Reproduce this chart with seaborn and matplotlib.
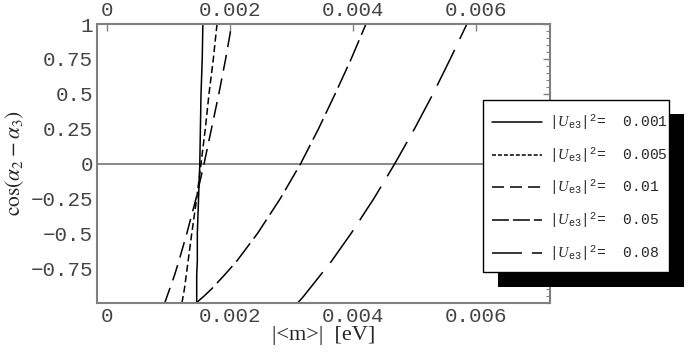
import numpy as np
import pandas as pd
import matplotlib
matplotlib.use("Agg")
import matplotlib.pyplot as plt
from matplotlib.lines import Line2D
from matplotlib.patches import Rectangle
import seaborn as sns

cos_vals = [-1.0, -0.95, -0.9, -0.8, -0.7, -0.5, -0.25, 0.0, 0.25, 0.5, 0.75, 1.0]

# |<m>| [eV] for each |Ue3|^2
m_0001 = [0.00146, 0.00146, 0.00146, 0.00146, 0.00147, 0.00147, 0.00149, 0.00151, 0.00152, 0.00153, 0.00155, 0.00156]
m_0005 = [0.00122, 0.00124, 0.00126, 0.00129, 0.00132, 0.00138, 0.00146, 0.00153, 0.00160, 0.00166, 0.00173, 0.00179]
m_001 = [0.00094, 0.00098, 0.00102, 0.00110, 0.00117, 0.00130, 0.00145, 0.00158, 0.00170, 0.00182, 0.00193, 0.00203]
m_005 = [0.00145, 0.00158, 0.00170, 0.00191, 0.00211, 0.00245, 0.00282, 0.00315, 0.00344, 0.00371, 0.00397, 0.00421]
m_008 = [0.00310, 0.00320, 0.00329, 0.00347, 0.00365, 0.00397, 0.00434, 0.00468, 0.00500, 0.00530, 0.00558, 0.00585]

ue3_vals = ["0.001", "0.005", "0.01", "0.05", "0.08"]
x_ticks = [0, 0.002, 0.004, 0.006]
x_ticklabels = ["0", "0.002", "0.004", "0.006"]
y_ticks = [-0.75, -0.5, -0.25, 0, 0.25, 0.5, 0.75, 1]
y_ticklabels = ["\u22120.75", "\u22120.5", "\u22120.25", "0", "0.25", "0.5", "0.75", "1"]

rows = []
for ue, ms in zip(ue3_vals, [m_0001, m_0005, m_001, m_005, m_008]):
    for c, m in zip(cos_vals, ms):
        rows.append({"ue3": ue, "m": m, "cos": c})
df = pd.DataFrame(rows)

sns.set_style("white")
plt.rcParams["mathtext.fontset"] = "custom"
plt.rcParams["mathtext.rm"] = "Liberation Mono"
plt.rcParams["mathtext.it"] = "Liberation Serif:italic"

gray = "#808080"
lw = 1.1
# dash patterns on the curves (linewidth units)
dash_map = {
    "0.001": "",
    "0.005": (4.6, 2.3),
    "0.01": (10.5, 5.2),
    "0.05": (15, 3.9),
    "0.08": (26, 7.9),
}
# shorter patterns as drawn in the legend box
legend_dashes = [None, (2.6, 1.3), (7.9, 3.9), (11.1, 2.6), (19.6, 6.5)]

fig = plt.figure(figsize=(6.88, 3.54), dpi=100)
ax = fig.add_axes([97 / 688, 1 - 303 / 354, 453 / 688, 279 / 354])

sns.lineplot(data=df, x="m", y="cos", hue="ue3", style="ue3",
             palette=["black"] * 5, dashes=dash_map, sort=False,
             estimator=None, legend=False, lw=lw, ax=ax)

ax.axhline(0, color=gray, lw=1.3, zorder=1)

ax.set_xlim(-0.00016, 0.0072)
ax.set_ylim(-1, 1)

tick_font = {"family": "Liberation Mono", "size": 15, "color": "#444444"}
ax.set_xticks(x_ticks)
ax.set_xticklabels(x_ticklabels, fontdict=tick_font)
ax.set_yticks(y_ticks)
ax.set_yticklabels(y_ticklabels, fontdict=tick_font)
ax.set_yticks(np.arange(-1, 1.001, 0.05), minor=True)

ax.tick_params(which="both", direction="in", color=gray, top=True, right=True,
               labeltop=True, labelbottom=True, pad=3)
ax.tick_params(which="major", length=5, width=1)
ax.tick_params(which="minor", length=3, width=0.8)

for sp in ax.spines.values():
    sp.set_color(gray)
    sp.set_linewidth(1.5)

ax.set_xlabel("|<m>|  [eV]", fontfamily="Liberation Serif", fontsize=16, labelpad=0)
ax.set_ylabel(r"$\cos(\alpha_2-\alpha_3)$", fontsize=15.5, math_fontfamily="stix", labelpad=3)

# legend box with a hard black shadow (figure pixel positions)
W, H = 688, 354
shadow = Rectangle((498 / W, 1 - 287 / H), 186 / W, 173 / H, transform=fig.transFigure,
                   facecolor="black", edgecolor="none", clip_on=False, zorder=6)
box = Rectangle((483 / W, 1 - 272 / H), 186 / W, 172 / H, transform=fig.transFigure,
                facecolor="white", edgecolor="black", lw=1, clip_on=False, zorder=7)
ax.add_patch(shadow)
ax.add_patch(box)

handles = []
for d in legend_dashes:
    if d is None:
        handles.append(Line2D([], [], color="black", lw=lw))
    else:
        handles.append(Line2D([], [], color="black", lw=lw, dashes=d))
labels = ["|$U_{\\mathrm{e3}}$|$^{2}$=  " + v for v in ue3_vals]
leg = ax.legend(handles, labels, loc="upper left",
                bbox_to_anchor=(483 / W, 1 - 104 / H), bbox_transform=fig.transFigure,
                borderaxespad=0, frameon=False,
                prop={"family": "Liberation Mono", "size": 10.5},
                handlelength=3.43, handletextpad=0.5, labelspacing=0.95, borderpad=0.62)
leg.set_zorder(8)

fig.savefig("out.png", dpi=100)
